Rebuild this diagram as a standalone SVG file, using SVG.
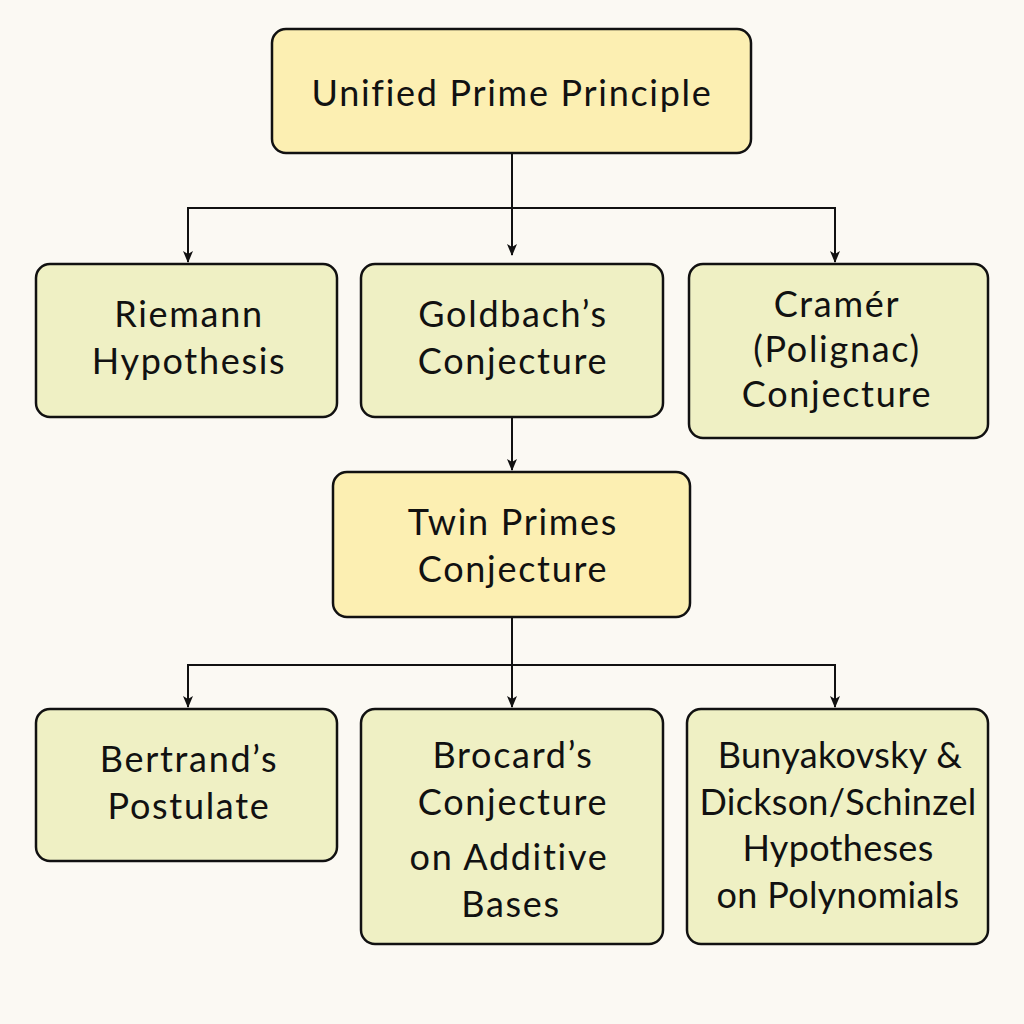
<svg xmlns="http://www.w3.org/2000/svg" width="1024" height="1024" viewBox="0 0 1024 1024">
<defs>
<marker id="arr" viewBox="0 0 12 12" refX="11" refY="6" markerWidth="12" markerHeight="12" markerUnits="userSpaceOnUse" orient="auto">
<path d="M0,1 L12,6 L0,11 L3,6 Z" fill="#111"/>
</marker>
</defs>
<style>
.y{fill:#fcefb2;stroke:#111;stroke-width:2.5}
.g{fill:#eff0c4;stroke:#111;stroke-width:2.5}
text{font-family:"Lato","Open Sans","Liberation Sans",sans-serif;font-size:36px;letter-spacing:1.7px;fill:#111;text-anchor:middle}
.t{letter-spacing:0.3px}
.c{fill:none;stroke:#111;stroke-width:2}
</style>
<rect width="1024" height="1024" fill="#fbf9f3"/>
<g id="connectors">
<path class="c" d="M512,153 V255" marker-end="url(#arr)"/>
<path class="c" d="M188,262 V208 H835 V262" marker-end="url(#arr)"/>
<path class="c" d="M188,208 V262" marker-end="url(#arr)"/>
<path class="c" d="M512,417 V470" marker-end="url(#arr)"/>
<path class="c" d="M512,617 V707" marker-end="url(#arr)"/>
<path class="c" d="M188,707 V665 H835 V707" marker-end="url(#arr)"/>
<path class="c" d="M188,665 V707" marker-end="url(#arr)"/>
</g>
<g id="n-unified"><rect class="y" x="272" y="29" width="479" height="124" rx="14"/><text x="512" y="106">Unified Prime Principle</text></g>
<g id="n-riemann"><rect class="g" x="36" y="264" width="301" height="153" rx="14"/><text x="189" y="327">Riemann</text><text x="189" y="374">Hypothesis</text></g>
<g id="n-goldbach"><rect class="g" x="361" y="264" width="302" height="153" rx="14"/><text x="513" y="327">Goldbach’s</text><text x="513" y="374">Conjecture</text></g>
<g id="n-cramer"><rect class="g" x="689" y="264" width="299" height="174" rx="14"/><text x="837" y="317">Cramér</text><text x="837" y="362">(Polignac)</text><text x="837" y="407">Conjecture</text></g>
<g id="n-twin"><rect class="y" x="333" y="472" width="357" height="145" rx="14"/><text x="513" y="535">Twin Primes</text><text x="513" y="582">Conjecture</text></g>
<g id="n-bertrand"><rect class="g" x="36" y="709" width="301" height="152" rx="14"/><text x="189" y="772">Bertrand’s</text><text x="189" y="819">Postulate</text></g>
<g id="n-brocard"><rect class="g" x="361" y="709" width="302" height="235" rx="14"/><text x="513" y="768">Brocard’s</text><text x="513" y="815">Conjecture</text><text x="509" y="870">on Additive</text><text x="511" y="917">Bases</text></g>
<g id="n-bunyakovsky"><rect class="g" x="687" y="709" width="301" height="235" rx="14"/><text class="t" x="840" y="768">Bunyakovsky &amp;</text><text class="t" x="838" y="815">Dickson/Schinzel</text><text class="t" x="838" y="861">Hypotheses</text><text class="t" x="838" y="908">on Polynomials</text></g>
</svg>
